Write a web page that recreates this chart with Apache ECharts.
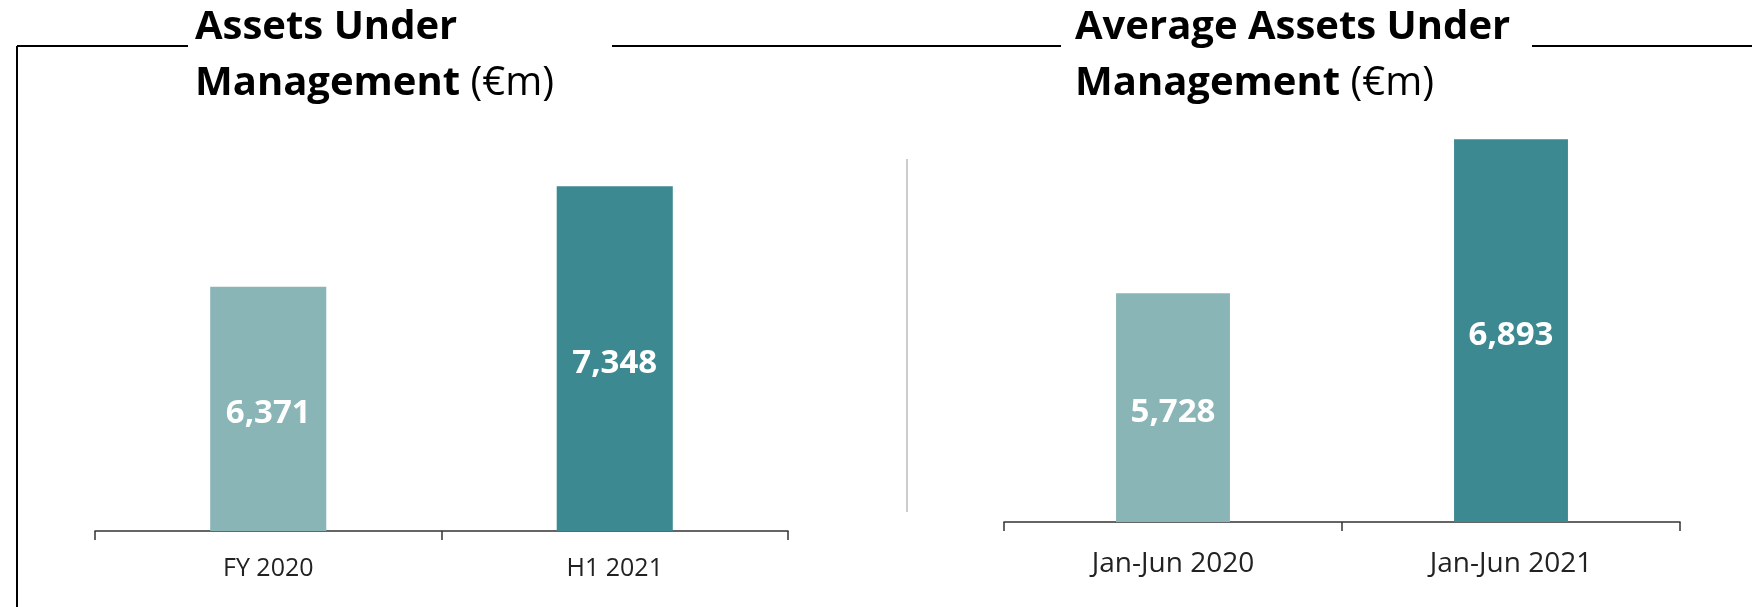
<!DOCTYPE html>
<html>
<head>
<meta charset="utf-8">
<script src="https://cdn.jsdelivr.net/npm/echarts@6/dist/echarts.min.js"></script>
<style>
  html, body { margin: 0; padding: 0; background: #fff; }
  #main { width: 1752px; height: 607px; }
</style>
</head>
<body>
<div id="main"></div>
<script>
// data
var aumCategories = ['FY 2020', 'H1 2021'];
var aumValues = [6371, 7348];
var avgCategories = ['Jan-Jun 2020', 'Jan-Jun 2021'];
var avgValues = [5728, 6893];
var barColors = ['#8AB5B6', '#3C8991'];

var myChart = echarts.init(document.getElementById('main'));

function withColors(values) {
  return values.map(function (v, i) {
    return { value: v, itemStyle: { color: barColors[i] } };
  });
}

var titleRich = {
  b: { fontFamily: 'Open Sans', fontWeight: 'bold', fontSize: 40, lineHeight: 56, color: '#000' },
  r: { fontFamily: 'Open Sans', fontWeight: 'normal', fontSize: 40, lineHeight: 56, color: '#000' }
};

var axisLine = { show: true, lineStyle: { color: '#333', width: 1.5 } };
var axisTick = { show: true, length: 9, lineStyle: { color: '#333', width: 1.5 } };

var barLabel = {
  show: true,
  position: 'inside',
  offset: [0, 5],
  color: '#fff',
  fontFamily: 'Open Sans',
  fontWeight: 'bold',
  fontSize: 33,
  formatter: function (p) { return p.value.toLocaleString('en-US'); }
};

option = {
  backgroundColor: '#fff',
  animation: false,
  title: [{
    left: 195,
    top: 0,
    padding: 0,
    text: '{b|Assets Under}\n{b|Management}{r| (€m)}',
    textStyle: { rich: titleRich }
  }, {
    left: 1075,
    top: 0,
    padding: 0,
    text: '{b|Average Assets Under}\n{b|Management}{r| (€m)}',
    textStyle: { rich: titleRich }
  }],
  graphic: [
    { type: 'line', shape: { x1: 17, y1: 46, x2: 188, y2: 46 }, style: { stroke: '#000', lineWidth: 2 } },
    { type: 'line', shape: { x1: 17, y1: 46, x2: 17, y2: 607 }, style: { stroke: '#000', lineWidth: 2 } },
    { type: 'line', shape: { x1: 612, y1: 46, x2: 1061, y2: 46 }, style: { stroke: '#000', lineWidth: 2 } },
    { type: 'line', shape: { x1: 1532, y1: 46, x2: 1752, y2: 46 }, style: { stroke: '#000', lineWidth: 2 } },
    { type: 'line', shape: { x1: 907, y1: 159, x2: 907, y2: 512 }, style: { stroke: '#cccccc', lineWidth: 2 } }
  ],
  grid: [
    { left: 95, right: 964, top: 119, bottom: 76 },
    { left: 1004, right: 72, top: 125, bottom: 85 }
  ],
  xAxis: [{
    type: 'category',
    gridIndex: 0,
    data: aumCategories,
    axisLine: axisLine,
    axisTick: axisTick,
    axisLabel: { margin: 25, color: '#222', fontFamily: 'Open Sans', fontSize: 25 }
  }, {
    type: 'category',
    gridIndex: 1,
    data: avgCategories,
    axisLine: axisLine,
    axisTick: axisTick,
    axisLabel: { margin: 28, color: '#222', fontFamily: 'Open Sans', fontSize: 28 }
  }],
  yAxis: [{
    type: 'value',
    gridIndex: 0,
    min: 4000,
    max: 8000,
    show: false,
    splitLine: { show: false }
  }, {
    type: 'value',
    gridIndex: 1,
    min: 4000,
    max: 7000,
    show: false,
    splitLine: { show: false }
  }],
  series: [{
    name: 'Assets Under Management',
    type: 'bar',
    xAxisIndex: 0,
    yAxisIndex: 0,
    barWidth: '33.5%',
    label: barLabel,
    data: withColors(aumValues)
  }, {
    name: 'Average Assets Under Management',
    type: 'bar',
    xAxisIndex: 1,
    yAxisIndex: 1,
    barWidth: '33.7%',
    label: barLabel,
    data: withColors(avgValues)
  }]
};
myChart.setOption(option);
</script>
</body>
</html>
